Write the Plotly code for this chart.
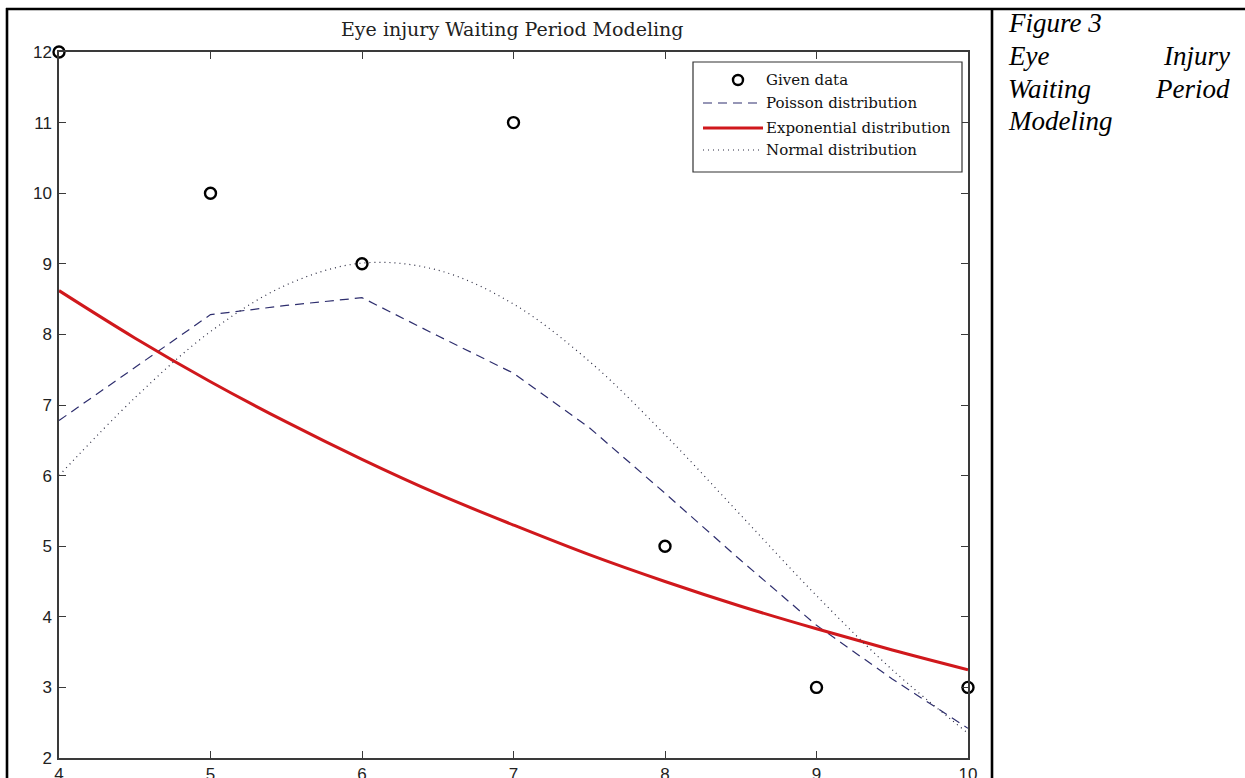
import plotly.graph_objects as go

# Observed waiting periods
DATA_X = [4, 5, 6, 7, 8, 9, 10]
DATA_Y = [12, 10, 9, 11, 5, 3, 3]

# Poisson model
POISSON_X = [4, 4.5, 5, 5.5, 6, 6.5, 7, 7.5, 8, 8.5, 9, 9.5, 10]
POISSON_Y = [6.78, 7.53, 8.28, 8.41, 8.52, 7.98, 7.45, 6.68, 5.75, 4.80, 3.88, 3.12, 2.42]

# Exponential model
EXPO_X = [4, 4.5, 5, 5.5, 6, 6.5, 7, 7.5, 8, 8.5, 9, 9.5, 10]
EXPO_Y = [8.62, 7.95, 7.33, 6.76, 6.23, 5.74, 5.30, 4.88, 4.50, 4.15, 3.83, 3.53, 3.25]

# Normal model
NORMAL_X = [4, 4.5, 5, 5.5, 6, 6.5, 7, 7.5, 8, 8.5, 9, 9.5, 10]
NORMAL_Y = [6.00, 7.10, 8.04, 8.70, 9.01, 8.91, 8.43, 7.62, 6.58, 5.44, 4.30, 3.25, 2.35]

X_TICKS = [4, 5, 6, 7, 8, 9, 10]
Y_TICKS = [2, 3, 4, 5, 6, 7, 8, 9, 10, 11, 12]

W, H = 1245, 778
L, R, T, B = 59, 968, 52, 758

RED = "#d0181c"
NAVY = "#2e2e6e"
DOT = "#2a2a40"
PLOT_SERIF = "DejaVu Serif"
CAPTION_SERIF = "Liberation Serif"


def px(xp):
    return (xp - L) / (R - L)


def py(yp):
    return (B - yp) / (B - T)


fig = go.Figure()

fig.add_trace(go.Scatter(
    x=POISSON_X, y=POISSON_Y, mode="lines",
    line=dict(color=NAVY, width=1.2, dash="9px,6px"),
    name="Poisson distribution", showlegend=False))
fig.add_trace(go.Scatter(
    x=EXPO_X, y=EXPO_Y, mode="lines", line_shape="spline",
    line=dict(color=RED, width=3),
    name="Exponential distribution", showlegend=False))
fig.add_trace(go.Scatter(
    x=NORMAL_X, y=NORMAL_Y, mode="lines", line_shape="spline",
    line=dict(color=DOT, width=1.2, dash="1px,4px"),
    name="Normal distribution", showlegend=False))
fig.add_trace(go.Scatter(
    x=DATA_X, y=DATA_Y, mode="markers", cliponaxis=False,
    marker=dict(symbol="circle-open", size=11, color="black",
                line=dict(width=2.4, color="black")),
    name="Given data", showlegend=False))

shapes = []
annotations = []

# page table borders
for x0, y0, x1, y1 in [(6, 9, W + 5, 9), (7, 8, 7, H + 5), (992, 9, 992, H + 5)]:
    shapes.append(dict(type="line", xref="paper", yref="paper",
                       x0=px(x0), y0=py(y0), x1=px(x1), y1=py(y1),
                       line=dict(color="black", width=2.6)))

# legend box
shapes.append(dict(type="rect", xref="paper", yref="paper",
                   x0=px(693), y0=py(62), x1=px(962), y1=py(172),
                   fillcolor="white", line=dict(color="#333333", width=1.2),
                   layer="above"))
shapes.append(dict(type="circle", xref="paper", yref="paper",
                   x0=px(733), y0=py(75), x1=px(743), y1=py(85),
                   line=dict(color="black", width=2.4), layer="above"))
legend_lines = [(103, NAVY, 1.2, "9px,6px"), (128, RED, 3, "solid"),
                (150, DOT, 1.2, "1px,4px")]
for yy, col, wd, dash in legend_lines:
    shapes.append(dict(type="line", xref="paper", yref="paper",
                       x0=px(703), y0=py(yy), x1=px(763), y1=py(yy),
                       line=dict(color=col, width=wd, dash=dash), layer="above"))
legend_labels = [(80, "Given data"), (103, "Poisson distribution"),
                 (128, "Exponential distribution"), (150, "Normal distribution")]
for yy, txt in legend_labels:
    annotations.append(dict(xref="paper", yref="paper", x=px(764), y=py(yy),
                            xanchor="left", yanchor="middle", showarrow=False,
                            text=txt, font=dict(family=PLOT_SERIF, size=15, color="#111")))

# chart title
annotations.append(dict(xref="paper", yref="paper", x=px(512), y=py(29),
                        xanchor="center", yanchor="middle", showarrow=False,
                        text="Eye injury Waiting Period Modeling",
                        font=dict(family=PLOT_SERIF, size=19, color="#222")))

# caption in the side cell (justified: words pinned to both cell edges)
cap_font = dict(family=CAPTION_SERIF, size=27, color="black", style="italic")
caption = [
    (23, [("left", 1006, "Figure 3")]),
    (56, [("left", 1006, "Eye"), ("right", 1232, "Injury")]),
    (89, [("left", 1006, "Waiting"), ("right", 1232, "Period")]),
    (121, [("left", 1006, "Modeling")]),
]
for yy, parts in caption:
    for anchor, xx, txt in parts:
        annotations.append(dict(xref="paper", yref="paper", x=px(xx), y=py(yy),
                                xanchor=anchor, yanchor="middle", showarrow=False,
                                text=txt, font=cap_font))

axis_common = dict(showgrid=False, zeroline=False, showline=True, mirror="ticks",
                   linecolor="#3a3a3a", linewidth=1.5, ticks="inside", ticklen=7,
                   tickwidth=1.3, tickcolor="#3a3a3a", automargin=False,
                   tickfont=dict(family="Liberation Sans", size=17, color="#222"))

fig.update_layout(
    width=W, height=H,
    margin=dict(l=L, r=W - R, t=T, b=H - B),
    paper_bgcolor="white", plot_bgcolor="white",
    xaxis=dict(range=[4, 10], tickvals=X_TICKS, ticktext=[str(v) for v in X_TICKS],
               ticklabelstandoff=0, **axis_common),
    yaxis=dict(range=[2, 12], tickvals=Y_TICKS, ticktext=[str(v) for v in Y_TICKS],
               ticklabelstandoff=2, **axis_common),
    shapes=shapes,
    annotations=annotations,
    showlegend=False,
)

fig.write_html("out.html")
